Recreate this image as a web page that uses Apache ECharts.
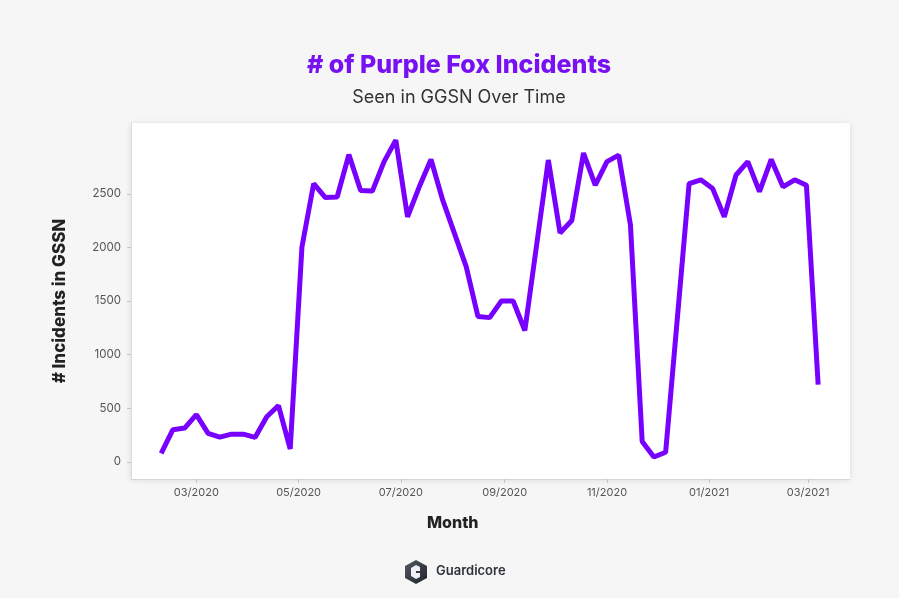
<!DOCTYPE html>
<html>
<head>
<meta charset="utf-8">
<title>Purple Fox Incidents</title>
<script src="https://cdn.jsdelivr.net/npm/echarts@6/dist/echarts.min.js"></script>
<style>
  html, body { margin: 0; padding: 0; background: #f6f6f7; }
  #chart { width: 899px; height: 598px; }
</style>
</head>
<body>
<div id="chart"></div>
<script>
// weekly counts
var weeks = [
  "2020-02-09", "2020-02-16", "2020-02-23", "2020-03-01", "2020-03-08",
  "2020-03-15", "2020-03-22", "2020-03-29", "2020-04-05", "2020-04-12",
  "2020-04-19", "2020-04-26", "2020-05-03", "2020-05-10", "2020-05-17",
  "2020-05-24", "2020-05-31", "2020-06-07", "2020-06-14", "2020-06-21",
  "2020-06-28", "2020-07-05", "2020-07-12", "2020-07-19", "2020-07-26",
  "2020-08-02", "2020-08-09", "2020-08-16", "2020-08-23", "2020-08-30",
  "2020-09-06", "2020-09-13", "2020-09-27", "2020-10-04", "2020-10-11",
  "2020-10-18", "2020-10-25", "2020-11-01", "2020-11-08", "2020-11-15",
  "2020-11-22", "2020-11-29", "2020-12-06", "2020-12-20", "2020-12-27",
  "2021-01-03", "2021-01-10", "2021-01-17", "2021-01-24", "2021-01-31",
  "2021-02-07", "2021-02-14", "2021-02-21", "2021-02-28", "2021-03-07"
];
var incidents = [
  80, 300, 315, 440, 265,
  230, 258, 258, 228, 420,
  525, 120, 2005, 2595, 2465,
  2470, 2865, 2530, 2525, 2800,
  3000, 2285, 2565, 2820, 2440,
  2130, 1820, 1355, 1345, 1500,
  1500, 1225, 2815, 2135, 2250,
  2880, 2580, 2800, 2860, 2210,
  190, 45, 90, 2595, 2630,
  2550, 2285, 2675, 2800, 2520,
  2820, 2565, 2630, 2580, 720
];
var monthTicks = ["2020-03-01", "2020-05-01", "2020-07-01", "2020-09-01",
                  "2020-11-01", "2021-01-01", "2021-03-01"];
var yTicks = [0, 500, 1000, 1500, 2000, 2500];

function toTime(d) {
  return +new Date(d + "T00:00:00");
}

var chart = echarts.init(document.getElementById("chart"));

var seriesData = [];
for (var i = 0; i < weeks.length; i++) {
  seriesData.push([toTime(weeks[i]), incidents[i]]);
}
var tickTimes = monthTicks.map(toTime);

var option = {
  backgroundColor: "#f6f6f7",
  animation: false,
  title: [
    {
      text: "# of Purple Fox Incidents",
      left: 454, top: 48, textAlign: "center",
      textStyle: { fontFamily: "Inter", fontSize: 25, fontWeight: 800, color: "#7711f2" }
    },
    {
      text: "Seen in GGSN Over Time",
      left: 454, top: 84, textAlign: "center",
      textStyle: { fontFamily: "Inter", fontSize: 18, fontWeight: 400, color: "#333" }
    }
  ],
  grid: {
    left: 131, right: 49, top: 123, bottom: 119,
    show: true, backgroundColor: "#fff", borderWidth: 0,
    shadowBlur: 6, shadowColor: "rgba(0,0,0,0.12)", shadowOffsetY: 1
  },
  xAxis: {
    type: "value",
    min: toTime("2020-01-22"),
    max: toTime("2021-03-26"),
    splitLine: { show: false },
    axisLine: { onZero: false, lineStyle: { color: "#d6d6d6", width: 1 } },
    axisTick: { show: true, customValues: tickTimes, length: 4, lineStyle: { color: "#c4c4c4" } },
    axisLabel: {
      customValues: tickTimes,
      color: "#555", fontFamily: "Inter", fontSize: 11, margin: 8,
      formatter: function (v) {
        var d = new Date(v);
        var m = d.getMonth() + 1;
        return (m < 10 ? "0" + m : m) + "/" + d.getFullYear();
      }
    }
  },
  yAxis: {
    type: "value",
    min: -160, max: 3160,
    name: "# Incidents in GSSN",
    nameLocation: "middle", nameGap: 63,
    nameTextStyle: { fontFamily: "Inter", fontSize: 17, fontWeight: 800, color: "#222" },
    splitLine: { show: false },
    axisLine: { show: true, lineStyle: { color: "#dcdcdc" } },
    axisTick: { show: true, customValues: yTicks, length: 4, lineStyle: { color: "#c4c4c4" } },
    axisLabel: {
      customValues: yTicks, color: "#555", fontFamily: "Inter", fontSize: 11.5, margin: 10,
      formatter: function (v) { return String(v); }
    }
  },
  series: [
    {
      type: "line",
      data: seriesData,
      showSymbol: false,
      symbol: "none",
      lineStyle: { color: "#7700ff", width: 5 },
      itemStyle: { color: "#7700ff" }
    }
  ],
  graphic: [
    {
      type: "text", left: 427, top: 515,
      style: { text: "Month", fontFamily: "Inter", fontSize: 16, fontWeight: 800, fill: "#222" }
    },
    {
      type: "polygon",
      shape: { points: [[416, 560], [427, 566], [427, 578], [416, 584], [405, 578], [405, 566]] },
      style: {
        fill: new echarts.graphic.LinearGradient(0, 0, 1, 1, [
          { offset: 0, color: "#555a63" }, { offset: 1, color: "#1f232b" }
        ])
      }
    },
    {
      type: "polygon",
      shape: { points: [[420, 567], [416, 565], [411, 568], [411, 576], [416, 579], [420, 577], [420, 573], [416, 573], [416, 571], [420, 571]] },
      style: { fill: "#eef0f3" }
    },
    {
      type: "text", left: 436, top: 565,
      style: { text: "Guardicore", fontFamily: "Inter", fontSize: 13, fontWeight: 600, fill: "#2c313a" }
    }
  ]
};

chart.setOption(option);
</script>
</body>
</html>
